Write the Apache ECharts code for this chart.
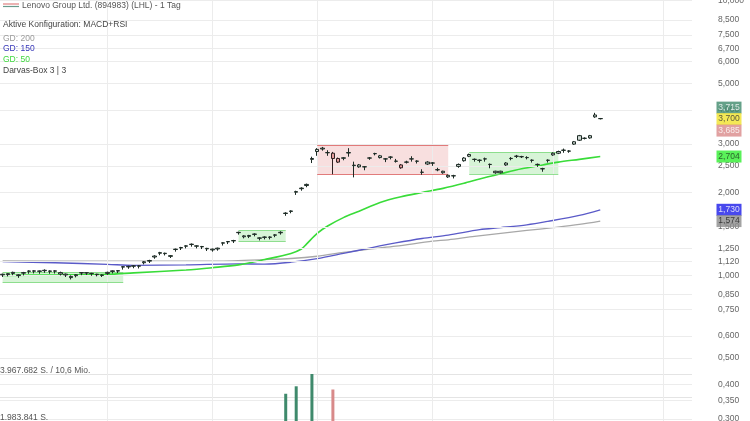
<!DOCTYPE html>
<html><head><meta charset="utf-8">
<script src="https://cdn.jsdelivr.net/npm/echarts@6/dist/echarts.min.js"></script>
<style>html,body{margin:0;padding:0;background:#fff;overflow:hidden}#c{width:750px;height:421px}</style>
</head><body><div id="c"></div>
<script>
// ---------- data ----------
const candleOpen = [1.003,1.005,1.015,0.997,1.017,1.033,1.034,1.033,1.038,1.033,1.034,1.010,1.002,0.980,0.996,1.018,1.018,1.013,1.004,0.998,
1.015,1.032,1.035,1.070,1.072,1.078,1.078,1.110,1.125,1.165,1.202,1.198,1.171,1.240,1.256,1.275,1.293,1.275,1.268,1.247,
1.236,1.246,1.308,1.322,1.333,1.428,1.380,1.385,1.408,1.363,1.373,1.373,1.398,1.427,1.677,1.707,2.005,2.065,2.120,2.640,
2.820,2.880,2.790,2.780,2.660,2.665,2.785,2.505,2.480,2.478,2.668,2.768,2.680,2.648,2.688,2.598,2.520,2.578,2.648,2.598,
2.368,2.540,2.558,2.418,2.360,2.280,2.298,2.490,2.610,2.710,2.638,2.618,2.648,2.528,2.360,2.360,2.520,2.658,2.708,2.698,
2.678,2.618,2.528,2.438,2.618,2.740,2.780,2.848,2.828,3.000,3.100,3.148,3.160,3.770,3.712];
const candleClose = [1.008,1.013,1.024,1.003,1.022,1.036,1.037,1.036,1.042,1.036,1.037,1.022,1.009,0.990,1.004,1.022,1.021,1.016,1.008,1.002,
1.024,1.037,1.039,1.074,1.077,1.082,1.082,1.119,1.131,1.174,1.208,1.202,1.178,1.244,1.261,1.279,1.297,1.279,1.272,1.252,
1.244,1.254,1.312,1.326,1.337,1.432,1.390,1.395,1.412,1.367,1.377,1.377,1.402,1.433,1.683,1.713,2.015,2.075,2.140,2.660,
2.870,2.900,2.795,2.660,2.580,2.675,2.795,2.515,2.520,2.482,2.672,2.772,2.720,2.652,2.692,2.602,2.460,2.582,2.652,2.602,
2.372,2.580,2.562,2.422,2.390,2.310,2.302,2.530,2.670,2.750,2.642,2.622,2.652,2.532,2.390,2.390,2.560,2.662,2.712,2.702,
2.682,2.622,2.532,2.442,2.622,2.780,2.820,2.852,2.832,3.060,3.220,3.152,3.220,3.830,3.718];
const candleLow = [0.985,0.990,1.000,0.978,0.998,1.012,1.015,1.012,1.020,1.012,1.014,0.998,0.985,0.965,0.982,1.000,1.002,0.995,0.990,0.985,
1.002,1.015,1.018,1.048,1.055,1.060,1.058,1.095,1.108,1.148,1.182,1.180,1.155,1.218,1.235,1.252,1.270,1.252,1.245,1.225,
1.218,1.228,1.282,1.298,1.310,1.405,1.362,1.365,1.385,1.338,1.350,1.350,1.375,1.405,1.645,1.680,1.960,2.030,2.090,2.560,
2.720,2.840,2.720,2.330,2.560,2.620,2.700,2.270,2.460,2.410,2.630,2.730,2.660,2.580,2.640,2.570,2.440,2.550,2.590,2.550,
2.320,2.520,2.500,2.390,2.340,2.260,2.250,2.460,2.590,2.690,2.590,2.570,2.590,2.450,2.340,2.345,2.500,2.620,2.670,2.670,
2.640,2.570,2.480,2.380,2.570,2.720,2.760,2.790,2.790,2.980,3.080,3.120,3.140,3.740,3.690];
const candleHigh = [1.013,1.016,1.030,1.008,1.028,1.042,1.043,1.040,1.050,1.041,1.043,1.030,1.014,0.998,1.010,1.027,1.026,1.020,1.012,1.007,
1.030,1.042,1.044,1.079,1.082,1.088,1.088,1.126,1.138,1.182,1.216,1.208,1.184,1.250,1.268,1.286,1.305,1.286,1.278,1.258,
1.250,1.260,1.318,1.332,1.345,1.440,1.398,1.402,1.420,1.373,1.385,1.385,1.410,1.445,1.695,1.722,2.030,2.090,2.155,2.700,
2.900,2.930,2.850,2.810,2.680,2.690,2.900,2.590,2.540,2.495,2.690,2.790,2.740,2.670,2.710,2.650,2.540,2.610,2.710,2.620,
2.430,2.600,2.580,2.460,2.400,2.325,2.320,2.550,2.690,2.770,2.660,2.640,2.680,2.550,2.400,2.400,2.580,2.690,2.740,2.720,
2.710,2.640,2.550,2.460,2.640,2.800,2.840,2.890,2.850,3.080,3.240,3.175,3.240,3.900,3.735];

const gd50 = [[0,0.998],[10,1.002],[20,1.007],[25,1.02],[35,1.045],[40,1.065],[45,1.09],[50,1.14],[55,1.2],[57,1.245],[58,1.30],
  [60,1.42],[62,1.51],[65,1.62],[68,1.71],[72,1.84],[76,1.93],[80,2.00],[84,2.07],[88,2.16],[91,2.24],[95,2.34],[99,2.44],
  [103,2.52],[106,2.58],[110,2.64],[114,2.704]];
const gd150 = [[0,1.12],[10,1.11],[20,1.095],[25,1.086],[35,1.09],[45,1.10],[50,1.097],[55,1.115],[60,1.149],[65,1.20],
  [70,1.255],[75,1.31],[80,1.36],[85,1.40],[91,1.465],[95,1.49],[100,1.525],[104,1.57],[110,1.65],[114,1.730]];
const gd200 = [[0,1.128],[20,1.125],[40,1.125],[50,1.14],[55,1.15],[60,1.172],[65,1.21],[70,1.245],[75,1.275],[82,1.33],
  [85,1.345],[90,1.385],[95,1.42],[100,1.455],[105,1.49],[110,1.53],[114,1.574]];

const darvasBoxes = [
  {from:0, to:23, top:1.028, bottom:0.939, kind:'up'},
  {from:45, to:54, top:1.458, bottom:1.325, kind:'up'},
  {from:60, to:85, top:2.962, bottom:2.335, kind:'down'},
  {from:89, to:106, top:2.80, bottom:2.335, kind:'up'}
];

const volumeIdx = [54, 56, 59, 63];
const volumeVals = [2300000, 2930000, 3967682, 2660000];
const volumeUp = [true, true, true, false];
const volumeMax = 3967682;
const volumeMaxLabel = '3.967.682 S. / 10,6 Mio.';
const volumeHalfLabel = '1.983.841 S.';

const priceTicks = [10, 8.5, 7.5, 6.7, 6, 5, 4, 3, 2.5, 2, 1.5, 1.25, 1.12, 1, 0.85, 0.75, 0.6, 0.5, 0.4, 0.35, 0.3];
const priceTickLabels = ['10,000','8,500','7,500','6,700','6,000','5,000','4,000','3,000','2,500','2,000','1,500','1,250','1,120','1,000','0,850','0,750','0,600','0,500','0,400','0,350','0,300'];
const monthIdx = [20, 40, 60, 82, 105, 126];

const quoteTags = [3.715, 3.700, 3.685];
const quoteTagLabels = ['3,715', '3,700', '3,685'];
const maTags = [2.704, 1.730, 1.574];
const maTagLabels = ['2,704', '1,730', '1,574'];

const slotCount = 132;
// ---------- chart ----------
const FONT = 'Liberation Sans, Arial, sans-serif';
const FS = 8.5;
const cats = [];
for (let i = 0; i < slotCount; i++) cats.push(String(i));

const candles = candleOpen.map((o, i) => [o, candleClose[i], candleLow[i], candleHigh[i]]);

const vol = candleOpen.map(() => null);
volumeIdx.forEach((ix, k) => {
  vol[ix] = {value: volumeVals[k], itemStyle: {color: volumeUp[k] ? '#3f8a6c' : '#d88a8a'}};
});

const gridLines = priceTicks.map((v, i) => ({yAxis: v, label: {formatter: priceTickLabels[i]}}));
const vLines = monthIdx.map(ix => ({xAxis: String(ix), label: {show: false}}));

const boxAreas = darvasBoxes.map(b => [
  {xAxis: String(b.from), yAxis: b.top, itemStyle: {color: b.kind === 'up' ? 'rgba(110,215,110,0.28)' : 'rgba(225,110,110,0.22)'}},
  {xAxis: String(b.to), yAxis: b.bottom}
]);
const boxEdges = [];
darvasBoxes.forEach(b => {
  const col = b.kind === 'up' ? 'rgba(120,215,120,0.8)' : 'rgba(220,100,100,0.85)';
  [b.top, b.bottom].forEach(v => {
    boxEdges.push([
      {coord: [String(b.from), v], lineStyle: {color: col, width: 1.2, type: 'solid'}},
      {coord: [String(b.to), v]}
    ]);
  });
});

const tagStyles = [
  {bg: '#3f8a6c', fg: '#ffffff', off: -11},
  {bg: '#f1e22c', fg: '#333333', off: 0},
  {bg: '#d98a8a', fg: '#ffffff', off: 11}
];
const maStyles = [
  {bg: '#2fee2f', fg: '#1f3a1f', off: 0},
  {bg: '#1a1ae8', fg: '#ffffff', off: 0},
  {bg: '#8c8c8c', fg: '#1a1a1a', off: 0}
];
const tagData = [];
quoteTags.forEach((v, i) => tagData.push({value: [0, v], symbolOffset: [0, tagStyles[i].off],
  itemStyle: {color: tagStyles[i].bg}, label: {color: tagStyles[i].fg, formatter: quoteTagLabels[i]}}));
maTags.forEach((v, i) => tagData.push({value: [0, v], symbolOffset: [0, maStyles[i].off],
  itemStyle: {color: maStyles[i].bg}, label: {color: maStyles[i].fg, formatter: maTagLabels[i]}}));

const yMin = 0.2946, yMax = 10.04;

const t = (text, left, top, color) => ({text, left, top, padding: 0,
  textStyle: {fontSize: FS, fontWeight: 'normal', color, fontFamily: FONT}});

const option = {
  animation: false,
  backgroundColor: '#ffffff',
  textStyle: {fontFamily: FONT},
  title: [
    t('Lenovo Group Ltd. (894983) (LHL) - 1 Tag', 22, 1, '#555555'),
    t('Aktive Konfiguration: MACD+RSI', 3, 20, '#444444'),
    t('GD: 200', 3, 34, '#9a9a9a'),
    t('GD: 150', 3, 44, '#3535b8'),
    t('GD: 50', 3, 55, '#3fd83f'),
    t('Darvas-Box 3 | 3', 3, 66, '#444444'),
    t(volumeMaxLabel, 0, 366, '#555555'),
    t(volumeHalfLabel, 0, 413, '#555555')
  ],
  graphic: [
    {type: 'line', shape: {x1: 3, y1: 4, x2: 19, y2: 4}, style: {stroke: '#e08080', lineWidth: 1.2}},
    {type: 'line', shape: {x1: 3, y1: 6.5, x2: 19, y2: 6.5}, style: {stroke: '#6a9a8c', lineWidth: 1.2}}
  ],
  grid: [
    {left: 0, right: 58, top: 0, bottom: 0},
    {left: 0, right: 58, top: 374, height: 88},
    {left: 716, width: 26, top: 0, bottom: 0}
  ],
  xAxis: [
    {type: 'category', data: cats, boundaryGap: true, gridIndex: 0, show: false},
    {type: 'category', data: cats, boundaryGap: true, gridIndex: 1, show: false},
    {type: 'value', min: -1, max: 1, gridIndex: 2, show: false}
  ],
  yAxis: [
    {type: 'log', logBase: 10, min: yMin, max: yMax, gridIndex: 0, show: false},
    {type: 'value', min: 0, max: volumeMax, interval: volumeMax / 2, gridIndex: 1,
      axisLine: {show: false}, axisTick: {show: false}, axisLabel: {show: false},
      splitLine: {show: true, lineStyle: {color: '#e4e4e4', width: 1}}},
    {type: 'log', logBase: 10, min: yMin, max: yMax, gridIndex: 2, show: false}
  ],
  series: [
    {
      name: 'grid', type: 'line', data: [], xAxisIndex: 0, yAxisIndex: 0, silent: true, z: 1,
      markLine: {
        silent: true, symbol: ['none', 'none'], animation: false,
        lineStyle: {color: '#ececec', width: 1, type: 'solid'},
        label: {show: true, position: 'end', distance: 26, color: '#666666', fontSize: FS, fontFamily: FONT},
        data: gridLines.concat(vLines)
      }
    },
    {
      name: 'Darvas', type: 'line', data: [], xAxisIndex: 0, yAxisIndex: 0, silent: true, z: 2,
      markArea: {silent: true, data: boxAreas},
      markLine: {silent: true, symbol: ['none', 'none'], label: {show: false}, data: boxEdges}
    },
    {
      name: 'GD 200', type: 'line', data: gd200, xAxisIndex: 0, yAxisIndex: 0, showSymbol: false, symbol: 'none',
      smooth: 0.3, z: 3, lineStyle: {color: '#a8a8a8', width: 1.3}
    },
    {
      name: 'GD 150', type: 'line', data: gd150, xAxisIndex: 0, yAxisIndex: 0, showSymbol: false, symbol: 'none',
      smooth: 0.3, z: 3, lineStyle: {color: '#5a5ac8', width: 1.3}
    },
    {
      name: 'GD 50', type: 'line', data: gd50, xAxisIndex: 0, yAxisIndex: 0, showSymbol: false, symbol: 'none',
      smooth: 0.3, z: 4, lineStyle: {color: '#39dc39', width: 1.6}
    },
    {
      name: 'Kurs', type: 'candlestick', data: candles, xAxisIndex: 0, yAxisIndex: 0, barWidth: 4, z: 5,
      itemStyle: {color: '#d3dcd7', color0: '#e59c9c', borderColor: '#1c2a24', borderColor0: '#2e2222', borderWidth: 1}
    },
    {
      name: 'Volumen', type: 'bar', data: vol, xAxisIndex: 1, yAxisIndex: 1, barWidth: 3, z: 5
    },
    {
      name: 'tags', type: 'scatter', data: tagData, xAxisIndex: 2, yAxisIndex: 2, symbol: 'rect',
      symbolSize: [25, 12], z: 10, silent: true,
      label: {show: true, position: 'inside', fontSize: FS, fontFamily: FONT}
    }
  ]
};
const chart = echarts.init(document.getElementById('c'), null, {renderer: 'canvas'});
chart.setOption(option);
</script>
</body></html>
